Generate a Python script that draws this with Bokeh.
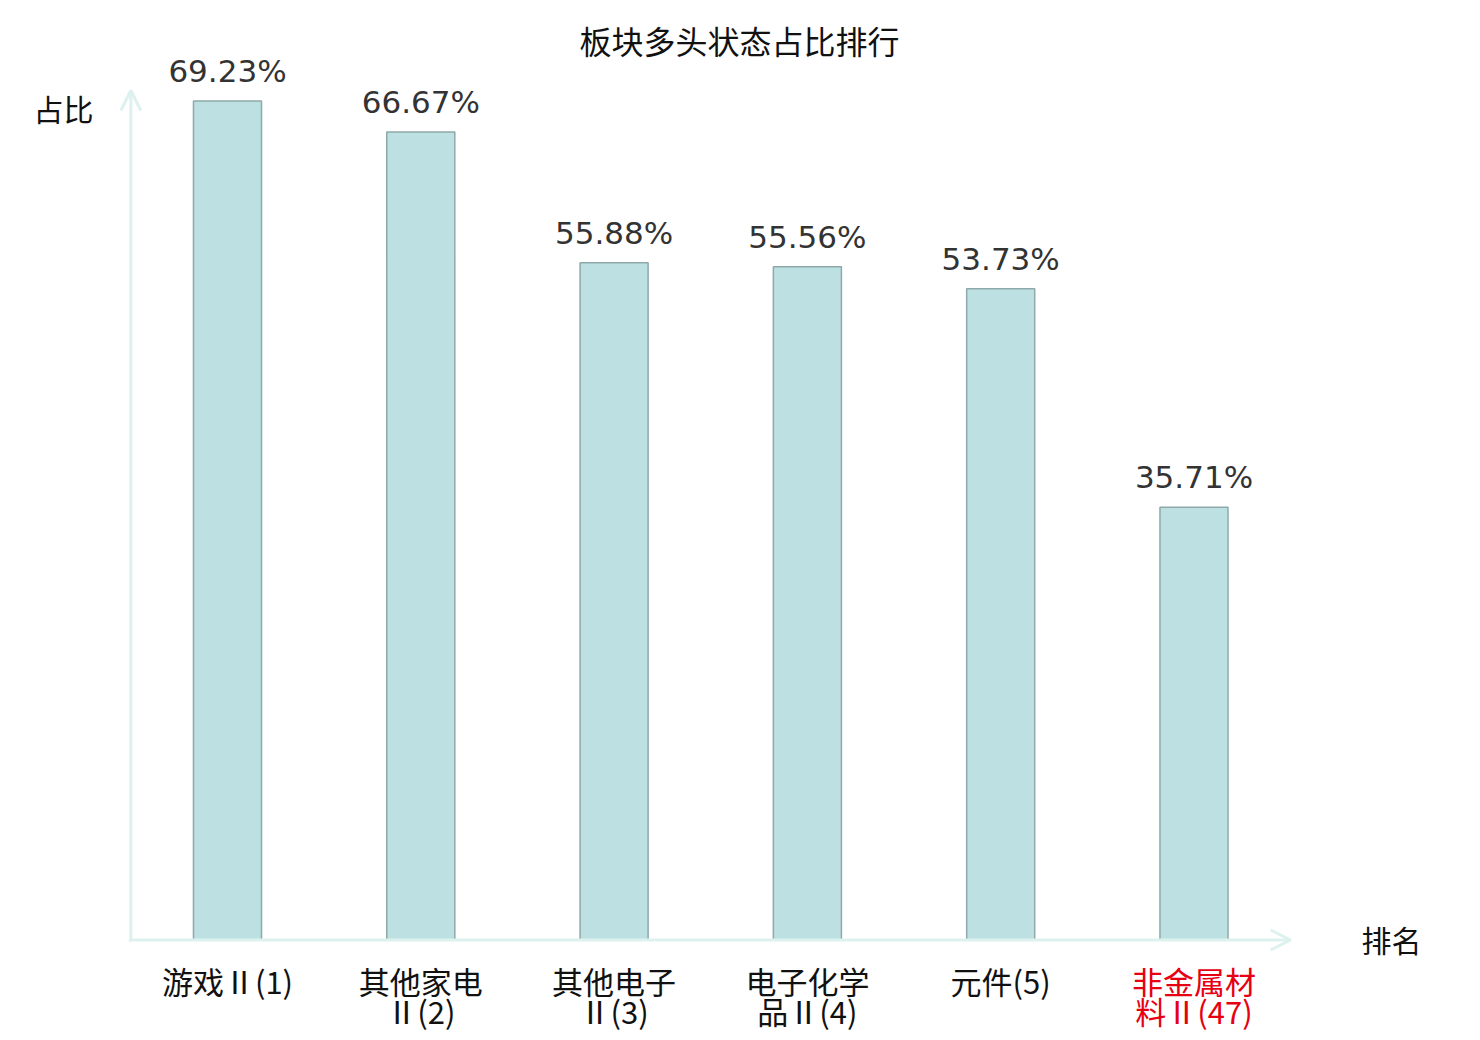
from bokeh.plotting import figure
from bokeh.models import Range1d, Arrow, OpenHead, ColumnDataSource
from bokeh.core.properties import value
from bokeh.embed import file_html
from bokeh.resources import INLINE

# ---- data ----
names = ["游戏Ⅱ", "其他家电Ⅱ", "其他电子Ⅱ", "电子化学品Ⅱ", "元件", "非金属材料Ⅱ"]
ranks = [1, 2, 3, 4, 5, 47]
shares = [69.23, 66.67, 55.88, 55.56, 53.73, 35.71]
highlight = [False, False, False, False, False, True]
title_text = "板块多头状态占比排行"
y_label = "占比"
x_label = "排名"

W, H = 1472, 1032
X0, X1 = -1.1743, 6.4408
Y0, Y1 = -7.633, 77.523
PX_PER_Y = H / (Y1 - Y0)

def px_x(px):  # pixel from left -> data x
    return X0 + px / W * (X1 - X0)

def px_y(py):  # pixel from top -> data y
    return Y1 - py / H * (Y1 - Y0)

p = figure(width=W, height=H, output_backend="svg", toolbar_location=None,
           x_range=Range1d(X0, X1), y_range=Range1d(Y0, Y1), min_border=0)
p.axis.visible = False
p.grid.visible = False
p.outline_line_color = None
p.background_fill_color = "white"
p.border_fill_color = "white"

xs = list(range(len(names)))
src = ColumnDataSource(dict(
    x=xs, top=shares,
    lbl_y=[v + 30 / PX_PER_Y for v in shares],
    lbl=[f"{v:.2f}%" for v in shares],
    line1=[(n[:4] if len(n) > 4 else f"{n}({r})") for n, r in zip(names, ranks)],
    line2=[(f"{n[4:]}({r})" if len(n) > 4 else "") for n, r in zip(names, ranks)],
    col=["#e60012" if h else "#111111" for h in highlight],
))

axis_col = "#ddf1ee"
p.add_layout(Arrow(x_start=-0.5, y_start=-0.15, x_end=-0.5, y_end=70.1,
                   line_color=axis_col, line_width=3,
                   end=OpenHead(size=20, line_color=axis_col, line_width=3)))
p.add_layout(Arrow(x_start=-0.51, y_start=0, x_end=5.5, y_end=0,
                   line_color=axis_col, line_width=3,
                   end=OpenHead(size=20, line_color=axis_col, line_width=3)))

p.vbar(x="x", top="top", bottom=0, width=0.352, source=src,
       fill_color="#bde0e3", line_color="#8fa9ab", line_width=1.5)

p.text(x="x", y="lbl_y", text="lbl", source=src,
       text_align="center", text_baseline="alphabetic",
       text_font=value("DejaVu Sans"), text_font_size="31px", text_color="#333333")

cjk = value("Noto Sans CJK SC")
p.text(x="x", y=px_y(980), text="line1", source=src,
       text_align="center", text_baseline="middle",
       text_font=cjk, text_font_size="31px", text_color="col")
p.text(x="x", y=px_y(1010), text="line2", source=src,
       text_align="center", text_baseline="middle",
       text_font=cjk, text_font_size="31px", text_color="col")

p.text(x=[px_x(63)], y=[px_y(107)], text=[y_label], text_align="center",
       text_baseline="middle", text_font=cjk, text_font_size="30px", text_color="#111111")
p.text(x=[px_x(1391)], y=[px_y(938)], text=[x_label], text_align="center",
       text_baseline="middle", text_font=cjk, text_font_size="30px", text_color="#111111")
p.text(x=[px_x(739)], y=[px_y(39)], text=[title_text], text_align="center",
       text_baseline="middle", text_font=cjk, text_font_size="32px", text_color="#111111")

open("out.html", "w").write(file_html(p, INLINE))
